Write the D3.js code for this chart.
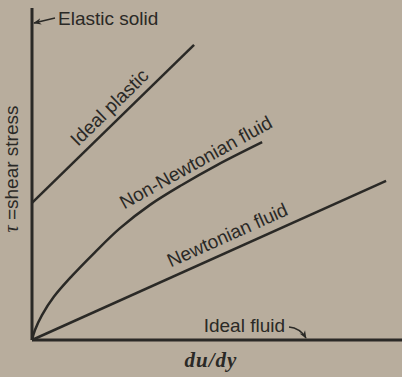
<!DOCTYPE html>
<html>
<head>
<meta charset="utf-8">
<script src="https://cdn.jsdelivr.net/npm/d3@7"></script>
<style>
  body { margin: 0; background: #b8ad9d; }
  svg { display: block; }
  .lbl { font-family: "Liberation Sans", Arial, sans-serif; font-size: 19px; fill: #2a2926; }
</style>
</head>
<body>
<svg id="area" width="402" height="377"></svg>
<script>
// shear stress vs rate of deformation (arbitrary units)
const elasticSolid = [[0, 0], [0, 10]];
const idealFluid = [[0, 0], [10, 0]];
const newtonian = [[0, 0], [9.57, 4.79]];
const idealPlastic = [[0, 4.13], [4.38, 8.89]];
const nonNewtonian = [
  [0, 0], [0.08, 0.30], [0.27, 0.75], [0.59, 1.30], [1.08, 1.93], [1.68, 2.62],
  [2.38, 3.37], [3.19, 4.07], [4.05, 4.67], [5.00, 5.27], [6.22, 5.96],
];
const seriesNames = ['Elastic solid', 'Ideal plastic', 'Non-Newtonian fluid', 'Newtonian fluid', 'Ideal fluid'];

const width = 402;
const height = 377;
const margin = { top: 8, right: 0, bottom: 37, left: 32 };
const ink = '#2a2926';

const svg = d3.select('#area');

const x = d3.scaleLinear()
  .domain([0, 10])
  .range([margin.left, width - margin.right]);
const y = d3.scaleLinear()
  .domain([0, 10])
  .range([height - margin.bottom, margin.top]);

const line = d3.line()
  .x((d) => x(d[0]))
  .y((d) => y(d[1]));
const curve = d3.line()
  .x((d) => x(d[0]))
  .y((d) => y(d[1]))
  .curve(d3.curveCatmullRom);

svg.append('defs').append('marker')
  .attr('id', 'head')
  .attr('viewBox', '0 0 10 10')
  .attr('refX', 9)
  .attr('refY', 5)
  .attr('markerWidth', 8)
  .attr('markerHeight', 8)
  .attr('markerUnits', 'userSpaceOnUse')
  .attr('orient', 'auto')
  .append('path')
  .attr('d', 'M0,1 L10,5 L0,9 L3,5 Z')
  .attr('fill', ink);

// axes double as the elastic solid / ideal fluid lines
[elasticSolid, idealFluid].forEach((d) => {
  svg.append('path')
    .attr('d', line(d))
    .attr('fill', 'none')
    .attr('stroke', ink)
    .attr('stroke-width', 3);
});

[newtonian, idealPlastic].forEach((d) => {
  svg.append('path')
    .attr('d', line(d))
    .attr('fill', 'none')
    .attr('stroke', ink)
    .attr('stroke-width', 2.5);
});

svg.append('path')
  .attr('d', curve(nonNewtonian))
  .attr('fill', 'none')
  .attr('stroke', ink)
  .attr('stroke-width', 2.5);

// labels along the lines
const angle = (s) => {
  const a = s[0];
  const b = s[s.length - 1];
  return (Math.atan2(y(b[1]) - y(a[1]), x(b[0]) - x(a[0])) * 180) / Math.PI;
};

const onLine = [
  { text: seriesNames[1], px: 114, py: 112, rot: angle(idealPlastic) },
  { text: seriesNames[2], px: 199, py: 168, rot: -29 },
  { text: seriesNames[3], px: 230, py: 241, rot: angle(newtonian) },
];

svg.selectAll('text.on')
  .data(onLine)
  .enter().append('text')
  .attr('class', 'lbl on')
  .attr('text-anchor', 'middle')
  .attr('transform', (d) => `translate(${d.px},${d.py}) rotate(${d.rot})`)
  .text((d) => d.text);

// elastic solid callout
svg.append('text')
  .attr('class', 'lbl')
  .attr('x', x(0) + 26)
  .attr('y', 25)
  .text(seriesNames[0]);
svg.append('path')
  .attr('d', `M${x(0) + 23},18 L${x(0) + 2},23`)
  .attr('stroke', ink)
  .attr('stroke-width', 1.3)
  .attr('fill', 'none')
  .attr('marker-end', 'url(#head)');

// ideal fluid callout
svg.append('text')
  .attr('class', 'lbl')
  .attr('x', 285)
  .attr('y', y(0) - 8)
  .attr('text-anchor', 'end')
  .text(seriesNames[4]);
svg.append('path')
  .attr('d', `M289,${y(0) - 13} Q300,${y(0) - 12} 306,${y(0) - 2}`)
  .attr('stroke', ink)
  .attr('stroke-width', 1.3)
  .attr('fill', 'none')
  .attr('marker-end', 'url(#head)');

// axis titles
svg.append('text')
  .attr('x', 211)
  .attr('y', 367)
  .attr('text-anchor', 'middle')
  .style('font-family', '"Liberation Serif", serif')
  .style('font-style', 'italic')
  .style('font-weight', 'bold')
  .style('font-size', '21px')
  .style('letter-spacing', '1px')
  .attr('fill', ink)
  .text('du/dy');

const yTitle = svg.append('text')
  .attr('class', 'lbl')
  .attr('text-anchor', 'middle')
  .attr('transform', 'translate(18,169) rotate(-90)');
yTitle.append('tspan')
  .style('font-family', '"Liberation Serif", serif')
  .style('font-style', 'italic')
  .style('font-size', '20px')
  .text('τ');
yTitle.append('tspan').text(' =shear stress');
</script>
</body>
</html>
